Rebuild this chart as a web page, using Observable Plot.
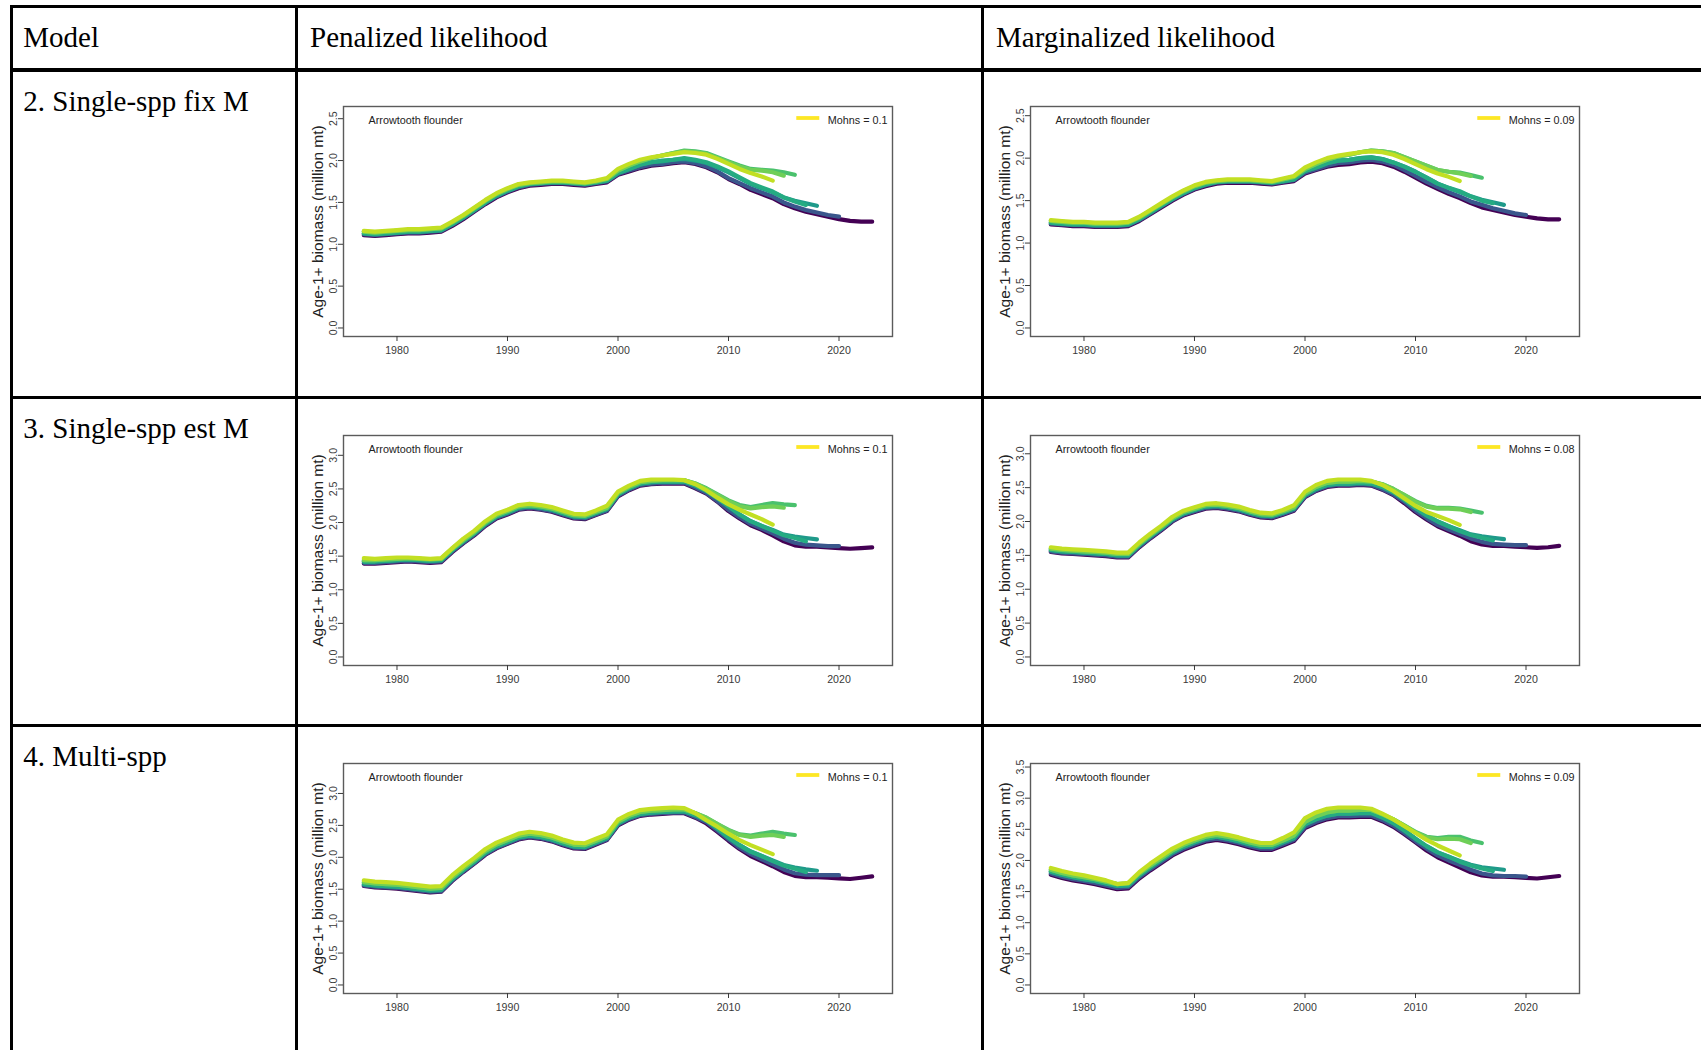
<!DOCTYPE html>
<html>
<head>
<meta charset="utf-8">
<script src="https://cdn.jsdelivr.net/npm/d3@7"></script>
<script src="https://cdn.jsdelivr.net/npm/@observablehq/plot@0.6"></script>
<style>
  html, body { margin: 0; padding: 0; background: #fff; }
  body { width: 1701px; height: 1050px; position: relative; overflow: hidden; }
  .rule { position: absolute; background: #000; z-index: 2; }
  .cell { position: absolute; font-family: "Liberation Serif", "Times New Roman", serif; font-size: 29px;
          line-height: 29px; color: #000; white-space: nowrap; z-index: 2; }
  .panel { position: absolute; z-index: 1; }
  .panel svg { display: block; }
</style>
</head>
<body>
<script>
// ---- table text ----
const columnHeaders = ["Model", "Penalized likelihood", "Marginalized likelihood"];
const modelNames = ["2. Single-spp fix M", "3. Single-spp est M", "4. Multi-spp"];

// ---- retrospective peels: terminal year of each line, drawn in this order ----
const terminalYears = [2023, 2020, 2018, 2017, 2016, 2015, 2014];
const peelColors = ["#440154", "#3A578C", "#1F9A8A", "#25AB82", "#4AC16D", "#6FCF57", "#C2DF23"];
const firstYear = 1977;
const speciesName = "Arrowtooth flounder";
const yLabel = "Age-1+ biomass (million mt)";
const xTicks = [1980, 1990, 2000, 2010, 2020];

// Mohn's rho per panel (row-major: penalized, marginalized)
const mohnsRho = ["0.1", "0.09", "0.1", "0.08", "0.1", "0.09"];

// Age-1+ biomass (million t), each line starts in 1977 and ends in its terminal year
const penalizedFixM = [
  [1.11,1.10,1.11,1.12,1.13,1.13,1.14,1.15,1.22,1.30, 1.39,1.48,1.56,1.62,1.67,1.70,1.71,1.72,1.72,1.71,
   1.70,1.72,1.74,1.83,1.87,1.91,1.94,1.95,1.97,1.98, 1.96,1.92,1.86,1.78,1.72,1.65,1.60,1.55,1.48,1.43,
   1.39,1.36,1.33,1.30,1.28,1.27,1.27],
  [1.12,1.11,1.12,1.13,1.14,1.14,1.15,1.16,1.23,1.31, 1.40,1.49,1.57,1.63,1.68,1.71,1.72,1.73,1.73,1.72,
   1.71,1.73,1.75,1.84,1.88,1.92,1.95,1.96,1.98,1.99, 1.97,1.93,1.87,1.79,1.73,1.67,1.62,1.57,1.50,1.45,
   1.41,1.38,1.35,1.33],
  [1.13,1.12,1.13,1.14,1.15,1.15,1.16,1.17,1.24,1.32, 1.41,1.50,1.58,1.64,1.69,1.72,1.73,1.74,1.74,1.73,
   1.72,1.74,1.76,1.85,1.90,1.95,1.98,1.99,2.01,2.02, 2.00,1.97,1.92,1.86,1.79,1.72,1.67,1.62,1.56,1.52,
   1.49,1.46],
  [1.13,1.12,1.13,1.14,1.15,1.15,1.16,1.17,1.24,1.32, 1.41,1.50,1.58,1.64,1.69,1.72,1.73,1.74,1.74,1.73,
   1.72,1.74,1.76,1.85,1.90,1.95,1.98,2.00,2.01,2.03, 2.01,1.98,1.93,1.87,1.80,1.73,1.68,1.63,1.56,1.51,
   1.47],
  [1.15,1.14,1.15,1.16,1.17,1.17,1.18,1.19,1.26,1.34, 1.43,1.52,1.60,1.66,1.71,1.73,1.74,1.75,1.75,1.74,
   1.73,1.75,1.78,1.88,1.94,1.99,2.03,2.06,2.09,2.12, 2.11,2.09,2.04,1.99,1.94,1.90,1.89,1.88,1.86,1.83],
  [1.15,1.14,1.15,1.16,1.17,1.17,1.18,1.19,1.26,1.34, 1.43,1.52,1.60,1.66,1.71,1.73,1.74,1.75,1.75,1.74,
   1.73,1.75,1.78,1.88,1.94,1.99,2.03,2.06,2.09,2.11, 2.10,2.08,2.03,1.98,1.93,1.89,1.88,1.86,1.82],
  [1.16,1.15,1.16,1.17,1.18,1.18,1.19,1.20,1.27,1.35, 1.44,1.53,1.61,1.67,1.72,1.74,1.75,1.76,1.76,1.75,
   1.74,1.76,1.79,1.90,1.96,2.01,2.04,2.06,2.08,2.10, 2.09,2.07,2.02,1.96,1.90,1.85,1.81,1.76]
];

const marginalizedFixM = [
  [1.22,1.21,1.20,1.20,1.19,1.19,1.19,1.20,1.26,1.34, 1.42,1.50,1.57,1.63,1.67,1.70,1.71,1.71,1.71,1.70,
   1.69,1.71,1.73,1.82,1.86,1.90,1.92,1.93,1.95,1.96, 1.94,1.90,1.84,1.77,1.70,1.64,1.58,1.53,1.47,1.42,
   1.39,1.36,1.33,1.31,1.29,1.28,1.28],
  [1.23,1.22,1.21,1.21,1.20,1.20,1.20,1.21,1.27,1.35, 1.43,1.51,1.58,1.64,1.68,1.71,1.72,1.72,1.72,1.71,
   1.70,1.72,1.74,1.83,1.87,1.91,1.94,1.95,1.97,1.98, 1.96,1.92,1.86,1.79,1.72,1.66,1.60,1.55,1.49,1.45,
   1.41,1.38,1.35,1.33],
  [1.24,1.23,1.22,1.22,1.21,1.21,1.21,1.22,1.28,1.36, 1.44,1.52,1.59,1.65,1.69,1.72,1.73,1.73,1.73,1.72,
   1.71,1.73,1.75,1.85,1.89,1.94,1.97,1.98,2.00,2.01, 1.99,1.95,1.90,1.84,1.77,1.70,1.65,1.60,1.55,1.51,
   1.48,1.45],
  [1.24,1.23,1.22,1.22,1.21,1.21,1.21,1.22,1.28,1.36, 1.44,1.52,1.59,1.65,1.69,1.72,1.73,1.73,1.73,1.72,
   1.71,1.73,1.75,1.85,1.89,1.94,1.97,1.98,2.00,2.01, 1.99,1.95,1.90,1.84,1.77,1.70,1.65,1.61,1.55,1.50,
   1.47],
  [1.26,1.25,1.24,1.24,1.23,1.23,1.23,1.24,1.30,1.38, 1.46,1.54,1.61,1.67,1.71,1.73,1.74,1.74,1.74,1.73,
   1.72,1.75,1.78,1.87,1.93,1.98,2.02,2.04,2.07,2.09, 2.08,2.06,2.01,1.96,1.91,1.86,1.84,1.83,1.80,1.77],
  [1.26,1.25,1.24,1.24,1.23,1.23,1.23,1.24,1.30,1.38, 1.46,1.54,1.61,1.67,1.71,1.73,1.74,1.74,1.74,1.73,
   1.72,1.75,1.78,1.87,1.93,1.98,2.02,2.04,2.07,2.09, 2.08,2.06,2.01,1.96,1.91,1.86,1.84,1.82,1.79],
  [1.27,1.26,1.25,1.25,1.24,1.24,1.24,1.25,1.31,1.39, 1.47,1.55,1.62,1.68,1.72,1.74,1.75,1.75,1.75,1.74,
   1.73,1.76,1.79,1.89,1.95,2.00,2.03,2.05,2.07,2.08, 2.07,2.04,1.99,1.93,1.87,1.82,1.78,1.73]
];

const penalizedEstM = [
  [1.39,1.39,1.40,1.41,1.42,1.41,1.40,1.41,1.56,1.69, 1.81,1.95,2.06,2.12,2.19,2.21,2.19,2.16,2.11,2.06,
   2.05,2.11,2.17,2.39,2.48,2.55,2.57,2.58,2.58,2.58, 2.51,2.43,2.31,2.17,2.06,1.96,1.89,1.81,1.72,1.66,
   1.64,1.64,1.63,1.62,1.61,1.62,1.63],
  [1.40,1.40,1.41,1.42,1.43,1.42,1.41,1.42,1.57,1.70, 1.82,1.96,2.07,2.13,2.20,2.22,2.20,2.17,2.12,2.07,
   2.06,2.12,2.18,2.40,2.49,2.56,2.58,2.59,2.59,2.59, 2.52,2.44,2.32,2.19,2.08,1.98,1.91,1.84,1.76,1.70,
   1.67,1.66,1.65,1.65],
  [1.42,1.42,1.43,1.44,1.45,1.44,1.43,1.44,1.59,1.72, 1.84,1.98,2.09,2.15,2.22,2.24,2.22,2.19,2.14,2.09,
   2.08,2.14,2.20,2.42,2.51,2.58,2.60,2.61,2.61,2.61, 2.55,2.47,2.36,2.24,2.12,2.02,1.95,1.89,1.82,1.79,
   1.77,1.75],
  [1.42,1.42,1.43,1.44,1.45,1.44,1.43,1.44,1.59,1.72, 1.84,1.98,2.09,2.15,2.22,2.24,2.22,2.19,2.14,2.09,
   2.08,2.14,2.20,2.42,2.51,2.58,2.60,2.61,2.61,2.61, 2.55,2.47,2.36,2.24,2.12,2.02,1.95,1.88,1.81,1.77,
   1.72],
  [1.44,1.44,1.45,1.46,1.47,1.46,1.45,1.46,1.61,1.74, 1.86,2.00,2.11,2.17,2.24,2.26,2.24,2.21,2.16,2.11,
   2.10,2.16,2.22,2.44,2.53,2.60,2.62,2.63,2.63,2.63, 2.58,2.51,2.42,2.33,2.26,2.23,2.26,2.29,2.27,2.26],
  [1.44,1.44,1.45,1.46,1.47,1.46,1.45,1.46,1.61,1.74, 1.86,2.00,2.11,2.17,2.24,2.26,2.24,2.21,2.16,2.11,
   2.10,2.16,2.22,2.44,2.53,2.60,2.62,2.63,2.63,2.63, 2.58,2.50,2.41,2.32,2.24,2.21,2.23,2.24,2.22],
  [1.47,1.46,1.47,1.48,1.48,1.47,1.46,1.47,1.62,1.76, 1.88,2.02,2.13,2.19,2.26,2.28,2.26,2.23,2.18,2.13,
   2.12,2.18,2.25,2.46,2.55,2.62,2.64,2.64,2.64,2.63, 2.57,2.48,2.37,2.27,2.19,2.12,2.05,1.97]
];

const marginalizedEstM = [
  [1.55,1.53,1.52,1.51,1.50,1.49,1.47,1.47,1.62,1.75, 1.87,2.00,2.09,2.14,2.19,2.20,2.18,2.15,2.10,2.06,
   2.05,2.10,2.16,2.36,2.45,2.51,2.53,2.53,2.54,2.53, 2.47,2.39,2.27,2.14,2.03,1.93,1.86,1.79,1.71,1.66,
   1.64,1.64,1.63,1.62,1.61,1.62,1.64],
  [1.56,1.54,1.53,1.52,1.51,1.50,1.48,1.48,1.63,1.76, 1.88,2.01,2.10,2.15,2.20,2.21,2.19,2.16,2.11,2.07,
   2.06,2.11,2.17,2.37,2.46,2.52,2.54,2.54,2.55,2.54, 2.48,2.40,2.29,2.16,2.05,1.95,1.88,1.82,1.75,1.70,
   1.67,1.66,1.65,1.65],
  [1.58,1.56,1.55,1.54,1.53,1.52,1.50,1.50,1.65,1.78, 1.90,2.03,2.12,2.17,2.22,2.23,2.21,2.18,2.13,2.09,
   2.08,2.13,2.19,2.39,2.48,2.54,2.56,2.56,2.57,2.56, 2.51,2.43,2.32,2.20,2.09,2.00,1.93,1.87,1.81,1.78,
   1.76,1.74],
  [1.58,1.56,1.55,1.54,1.53,1.52,1.50,1.50,1.65,1.78, 1.90,2.03,2.12,2.17,2.22,2.23,2.21,2.18,2.13,2.09,
   2.08,2.13,2.19,2.39,2.48,2.54,2.56,2.56,2.57,2.56, 2.51,2.43,2.32,2.20,2.09,2.00,1.93,1.86,1.80,1.76,
   1.72],
  [1.60,1.58,1.57,1.56,1.55,1.54,1.52,1.52,1.67,1.80, 1.92,2.05,2.14,2.19,2.24,2.25,2.23,2.20,2.15,2.11,
   2.10,2.15,2.21,2.41,2.51,2.57,2.59,2.59,2.60,2.59, 2.55,2.48,2.39,2.30,2.23,2.20,2.20,2.19,2.16,2.13],
  [1.60,1.58,1.57,1.56,1.55,1.54,1.52,1.52,1.67,1.80, 1.92,2.05,2.14,2.19,2.24,2.25,2.23,2.20,2.15,2.11,
   2.10,2.15,2.21,2.41,2.51,2.57,2.59,2.59,2.60,2.59, 2.55,2.48,2.39,2.29,2.22,2.19,2.19,2.18,2.14],
  [1.62,1.60,1.59,1.58,1.57,1.56,1.54,1.54,1.69,1.82, 1.94,2.07,2.16,2.21,2.26,2.27,2.25,2.22,2.17,2.13,
   2.12,2.17,2.24,2.44,2.54,2.60,2.62,2.62,2.62,2.60, 2.54,2.45,2.34,2.23,2.14,2.08,2.02,1.95]
];

const penalizedMulti = [
  [1.55,1.53,1.52,1.51,1.49,1.47,1.45,1.46,1.63,1.77, 1.90,2.04,2.14,2.21,2.28,2.31,2.29,2.25,2.19,2.14,
   2.13,2.20,2.27,2.50,2.59,2.65,2.67,2.68,2.69,2.69, 2.62,2.53,2.40,2.26,2.13,2.02,1.94,1.86,1.77,1.71,
   1.69,1.69,1.68,1.67,1.66,1.68,1.70],
  [1.56,1.54,1.53,1.52,1.50,1.48,1.46,1.47,1.64,1.78, 1.91,2.05,2.15,2.22,2.29,2.32,2.30,2.26,2.20,2.15,
   2.14,2.21,2.28,2.51,2.60,2.66,2.68,2.69,2.70,2.70, 2.63,2.55,2.42,2.28,2.15,2.05,1.97,1.89,1.81,1.75,
   1.73,1.72,1.72,1.72],
  [1.58,1.56,1.55,1.54,1.52,1.50,1.48,1.49,1.66,1.80, 1.93,2.07,2.17,2.24,2.31,2.34,2.32,2.28,2.22,2.17,
   2.16,2.23,2.30,2.53,2.62,2.68,2.70,2.71,2.72,2.72, 2.66,2.58,2.45,2.31,2.19,2.09,2.02,1.95,1.88,1.84,
   1.81,1.79],
  [1.58,1.56,1.55,1.54,1.52,1.50,1.48,1.49,1.66,1.80, 1.93,2.07,2.17,2.24,2.31,2.34,2.32,2.28,2.22,2.17,
   2.16,2.23,2.30,2.53,2.62,2.68,2.70,2.71,2.72,2.72, 2.66,2.58,2.45,2.31,2.19,2.09,2.02,1.94,1.87,1.82,
   1.77],
  [1.61,1.59,1.58,1.57,1.55,1.53,1.51,1.52,1.69,1.83, 1.96,2.10,2.20,2.27,2.34,2.37,2.35,2.31,2.25,2.20,
   2.19,2.26,2.33,2.56,2.65,2.71,2.73,2.74,2.75,2.75, 2.69,2.62,2.52,2.43,2.36,2.34,2.37,2.40,2.37,2.35],
  [1.61,1.59,1.58,1.57,1.55,1.53,1.51,1.52,1.69,1.83, 1.96,2.10,2.20,2.27,2.34,2.37,2.35,2.31,2.25,2.20,
   2.19,2.26,2.33,2.56,2.65,2.71,2.73,2.74,2.75,2.75, 2.69,2.62,2.52,2.42,2.35,2.32,2.34,2.35,2.32],
  [1.64,1.62,1.61,1.60,1.58,1.56,1.54,1.55,1.72,1.86, 1.99,2.13,2.23,2.30,2.37,2.40,2.38,2.34,2.28,2.23,
   2.22,2.29,2.36,2.59,2.68,2.74,2.76,2.77,2.78,2.77, 2.69,2.58,2.48,2.37,2.27,2.19,2.12,2.05]
];

const marginalizedMulti = [
  [1.77,1.72,1.68,1.65,1.62,1.58,1.54,1.55,1.71,1.84, 1.96,2.08,2.17,2.24,2.30,2.33,2.30,2.26,2.21,2.17,
   2.17,2.24,2.31,2.52,2.60,2.66,2.69,2.69,2.70,2.70, 2.63,2.54,2.42,2.29,2.16,2.05,1.97,1.89,1.81,1.76,
   1.74,1.74,1.73,1.72,1.71,1.73,1.75],
  [1.79,1.74,1.70,1.67,1.64,1.60,1.56,1.57,1.73,1.86, 1.98,2.10,2.19,2.26,2.32,2.35,2.32,2.28,2.23,2.19,
   2.19,2.26,2.33,2.54,2.62,2.68,2.71,2.71,2.72,2.72, 2.65,2.56,2.44,2.31,2.19,2.08,2.00,1.93,1.85,1.79,
   1.76,1.75,1.75,1.74],
  [1.82,1.77,1.73,1.70,1.67,1.63,1.59,1.60,1.76,1.89, 2.01,2.13,2.22,2.29,2.35,2.38,2.35,2.31,2.26,2.22,
   2.22,2.29,2.36,2.58,2.66,2.72,2.75,2.75,2.76,2.76, 2.69,2.60,2.48,2.35,2.23,2.13,2.06,1.99,1.93,1.89,
   1.87,1.85],
  [1.82,1.77,1.73,1.70,1.67,1.63,1.59,1.60,1.76,1.89, 2.01,2.13,2.22,2.29,2.35,2.38,2.35,2.31,2.26,2.22,
   2.22,2.29,2.36,2.58,2.66,2.72,2.75,2.75,2.76,2.76, 2.69,2.60,2.48,2.35,2.23,2.13,2.06,1.98,1.92,1.87,
   1.83],
  [1.85,1.80,1.76,1.73,1.70,1.66,1.62,1.63,1.79,1.92, 2.04,2.16,2.25,2.32,2.38,2.41,2.38,2.34,2.29,2.25,
   2.25,2.32,2.40,2.62,2.71,2.77,2.80,2.80,2.81,2.81, 2.74,2.66,2.56,2.46,2.38,2.36,2.38,2.38,2.32,2.28],
  [1.85,1.80,1.76,1.73,1.70,1.66,1.62,1.63,1.79,1.92, 2.04,2.16,2.25,2.32,2.38,2.41,2.38,2.34,2.29,2.25,
   2.25,2.32,2.40,2.62,2.71,2.77,2.80,2.80,2.81,2.81, 2.74,2.66,2.56,2.45,2.37,2.34,2.35,2.34,2.28],
  [1.88,1.83,1.79,1.76,1.72,1.68,1.62,1.64,1.81,1.95, 2.07,2.19,2.28,2.35,2.41,2.44,2.41,2.37,2.32,2.28,
   2.28,2.36,2.45,2.68,2.77,2.83,2.85,2.85,2.85,2.83, 2.75,2.66,2.55,2.44,2.33,2.24,2.16,2.08]
];

// ---- page layout ----
const colEdges = [9.5, 294.5, 981];          // vertical rules (left edges)
const rowEdges = [5, 68.3, 395.5, 723.5];    // horizontal rules (top edges)
const ruleWidth = 3.3;

function rule(x, y, w, h) {
  const d = document.createElement("div");
  d.className = "rule";
  Object.assign(d.style, { left: x + "px", top: y + "px", width: w + "px", height: h + "px" });
  document.body.appendChild(d);
}
colEdges.forEach(x => rule(x, rowEdges[0], ruleWidth, 1050 - rowEdges[0]));
rowEdges.forEach(y => rule(colEdges[0], y, 1701 - colEdges[0], ruleWidth));

function cellText(text, x, baseline) {
  const d = document.createElement("div");
  d.className = "cell";
  d.textContent = text;
  // baseline of Liberation Serif sits ~0.8375em below the top of a 1em line box
  Object.assign(d.style, { left: x + "px", top: (baseline - 0.8375 * 29) + "px" });
  document.body.appendChild(d);
}
const headerX = [23.3, 310, 996];
columnHeaders.forEach((t, i) => cellText(t, headerX[i], 47.5));
const rowBaselines = [111, 438.5, 766.5];
modelNames.forEach((t, i) => cellText(t, 23.3, rowBaselines[i]));

// ---- one retrospective panel ----
const frameW = 549, frameH = 230;
const ML = 44, MR = 14, MT = 12, MB = 34;
const tickFont = 10.6;

const measureCtx = document.createElement("canvas").getContext("2d");
measureCtx.font = `${tickFont + 0.2}px "Liberation Sans"`;

function drawPanel(lines, mohns, frameLeft, frameTop) {
  const rows = lines.flatMap((vals, i) =>
    vals.map((v, j) => ({ year: firstYear + j, biomass: v, terminal: terminalYears[i] })));
  const lastYear = d3.max(rows, d => d.year);
  const xPad = 0.04 * (lastYear - firstYear);
  const yTop = 1.2 * d3.max(rows, d => d.biomass);
  const yTicks = d3.range(0, 1.04 * yTop + 1e-9, 0.5);
  const legendLabel = `Mohns = ${mohns}`;

  const svg = Plot.plot({
    width: frameW + ML + MR,
    height: frameH + MT + MB,
    marginLeft: ML, marginRight: MR, marginTop: MT, marginBottom: MB,
    style: { fontFamily: '"Liberation Sans", Arial, sans-serif', background: "transparent", overflow: "visible" },
    x: { domain: [firstYear - xPad, lastYear + xPad] },
    y: { domain: [-0.04 * yTop, 1.04 * yTop] },
    color: { domain: terminalYears, range: peelColors },
    marks: [
      Plot.line(rows, {
        x: "year", y: "biomass", z: "terminal", stroke: "terminal",
        strokeWidth: 4.2, strokeLinejoin: "round", strokeLinecap: "round"
      }),
      Plot.frame({ stroke: "#5b5b5b", strokeWidth: 1.4 }),
      Plot.axisX({ ticks: xTicks, tickFormat: d => String(d), tickSize: 5, tickPadding: 5,
                   fontSize: tickFont, color: "#3a3a3a", label: null }),
      Plot.axisY({ ticks: yTicks, tickFormat: () => "", tickSize: 5, color: "#3a3a3a", label: null }),
      Plot.text(yTicks, { y: d => d, text: d => d3.format(".1f")(d), frameAnchor: "left",
                          textAnchor: "middle", dx: -10, rotate: -90, fontSize: tickFont, fill: "#3a3a3a" }),
      Plot.text([yLabel], { text: d => d, frameAnchor: "left", textAnchor: "middle", dx: -25, rotate: -90,
                            fontSize: 15.5, fill: "#222" }),
      Plot.text([speciesName], { text: d => d, frameAnchor: "top-left", dx: 25, dy: 10,
                                 textAnchor: "start", fontSize: tickFont + 0.2, fill: "#222" }),
      Plot.text([legendLabel], { text: d => d, frameAnchor: "top-right", dx: -5, dy: 10,
                                 textAnchor: "end", fontSize: tickFont + 0.2, fill: "#222" })
    ]
  });

  // legend swatch: a short line ahead of the Mohn's rho label
  const textW = measureCtx.measureText(legendLabel).width;
  const x2 = ML + frameW - 5 - textW - 8;
  d3.select(svg).append("line")
    .attr("x1", x2 - 23).attr("x2", x2)
    .attr("y1", MT + 12).attr("y2", MT + 12)
    .attr("stroke", "#FDE725").attr("stroke-width", 3.8);

  const holder = document.createElement("div");
  holder.className = "panel";
  Object.assign(holder.style, {
    left: (frameLeft - ML) + "px", top: (frameTop - MT) + "px",
    width: (frameW + ML + MR) + "px", height: (frameH + MT + MB) + "px"
  });
  holder.appendChild(svg);
  document.body.appendChild(holder);
}

const frameLefts = [343, 1029.5];
const frameTops = [106, 434.5, 763];
const panelData = [penalizedFixM, marginalizedFixM, penalizedEstM, marginalizedEstM, penalizedMulti, marginalizedMulti];
panelData.forEach((lines, k) => {
  const r = Math.floor(k / 2), c = k % 2;
  drawPanel(lines, mohnsRho[k], frameLefts[c], frameTops[r]);
});
</script>
</body>
</html>
